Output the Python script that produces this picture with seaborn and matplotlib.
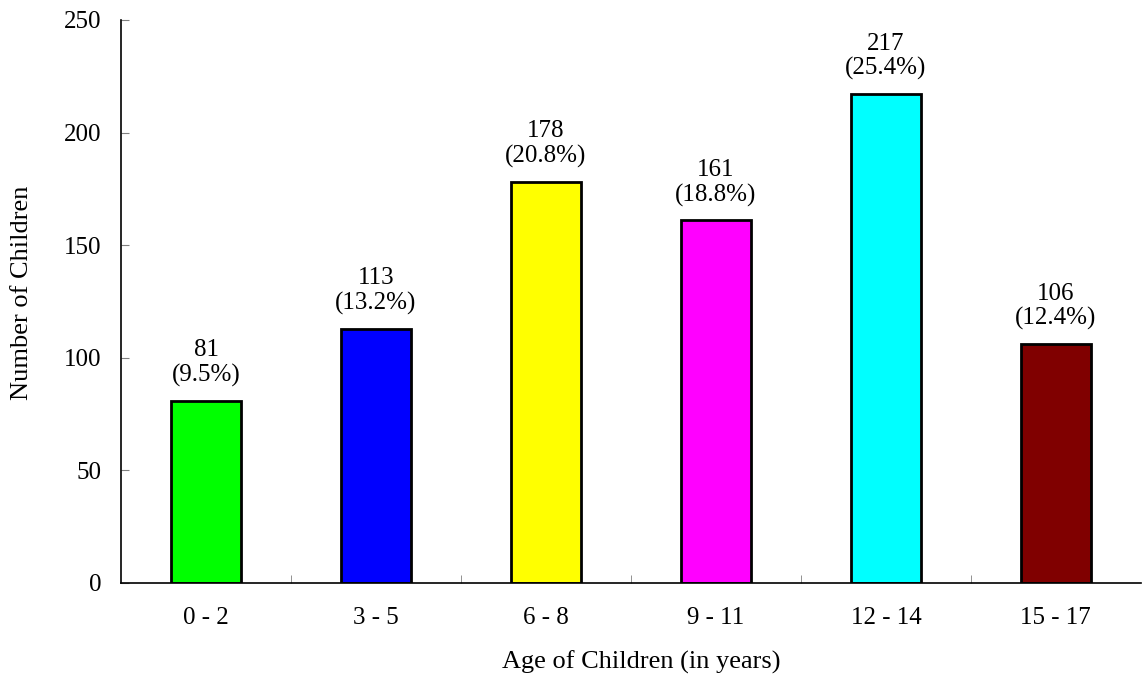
import pandas as pd
import numpy as np
import seaborn as sns
import matplotlib.pyplot as plt
from matplotlib.ticker import FixedLocator

ages = ['0 - 2', '3 - 5', '6 - 8', '9 - 11', '12 - 14', '15 - 17']
counts = [81, 113, 178, 161, 217, 106]
percents = ['9.5%', '13.2%', '20.8%', '18.8%', '25.4%', '12.4%']
colors = ['#00FF00', '#0000FF', '#FFFF00', '#FF00FF', '#00FFFF', '#800000']

sns.set_style('white')
plt.rcParams['font.family'] = ['Liberation Serif', 'DejaVu Serif']
plt.rcParams['text.color'] = 'black'
plt.rcParams['axes.labelcolor'] = 'black'
plt.rcParams['xtick.labelcolor'] = 'black'
plt.rcParams['ytick.labelcolor'] = 'black'

df = pd.DataFrame({'age': ages, 'count': counts})

fig = plt.figure(figsize=(11.42, 6.75), dpi=100)
ax = fig.add_axes([0.106, 0.1363, 0.893, 0.8341])
sns.barplot(x='age', y='count', hue='age', data=df, palette=colors, legend=False,
            width=0.41, edgecolor='black', linewidth=2, saturation=1, ax=ax)

for i, (c, p) in enumerate(zip(counts, percents)):
    ax.annotate(f'{c}\n({p})', (i, c), xytext=(0, 10), textcoords='offset points',
                ha='center', va='bottom', fontsize=18, linespacing=1.15)

ax.set_xlim(-0.5, len(ages) - 0.5)
ax.set_ylim(0, 250)
ax.set_yticks([0, 50, 100, 150, 200, 250])
ax.xaxis.set_minor_locator(FixedLocator(np.arange(0.5, len(ages) - 1, 1)))
ax.tick_params(axis='x', which='major', length=0, labelsize=18, pad=17)
ax.tick_params(axis='x', which='minor', length=6, direction='in', color='gray', bottom=True)
ax.tick_params(axis='y', length=6, direction='in', color='gray', labelsize=18, pad=14, left=True)
sns.despine(ax=ax)
for s in ['left', 'bottom']:
    ax.spines[s].set_color('black')
    ax.spines[s].set_linewidth(1.2)
ax.set_xlabel('Age of Children (in years)', fontsize=19)
ax.set_ylabel('Number of Children', fontsize=19)
ax.xaxis.set_label_coords(0.51, -0.12)
ax.yaxis.set_label_coords(-0.086, 0.515)

fig.savefig('out.png', dpi=100)
